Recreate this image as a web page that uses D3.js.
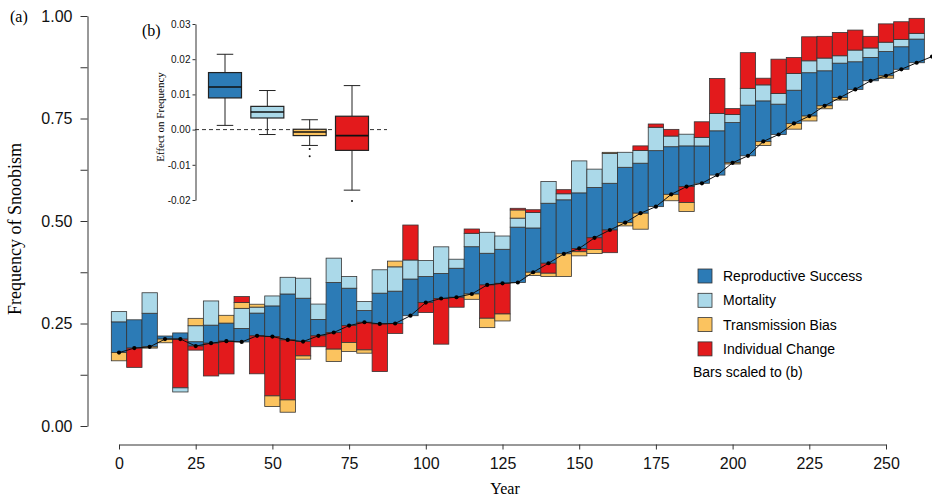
<!DOCTYPE html>
<html><head><meta charset="utf-8">
<script src="https://cdn.jsdelivr.net/npm/d3@7"></script>
<style>body{margin:0;background:#fff} svg{display:block}</style>
</head><body><svg id="c" width="932" height="502"></svg>
<script>
// ---------- DATA ----------
// trajectory of the frequency of snoobism (points every 5 years)
const trajYear = [0,5,10,15,20,25,30,35,40,45,50,55,60,65,70,75,80,85,90,95,100,105,110,115,120,125,130,135,140,145,150,155,160,165,170,175,180,185,190,195,200,205,210,215,220,225,230,235,240,245,250,255,260,265];
const trajFreq = [0.179,0.190,0.193,0.212,0.212,0.195,0.202,0.207,0.205,0.220,0.218,0.210,0.206,0.220,0.228,0.245,0.253,0.249,0.250,0.269,0.301,0.311,0.314,0.322,0.344,0.348,0.350,0.375,0.397,0.420,0.433,0.459,0.478,0.496,0.519,0.535,0.565,0.584,0.592,0.612,0.642,0.659,0.694,0.711,0.738,0.756,0.781,0.801,0.821,0.842,0.854,0.870,0.886,0.901];
// bar components (scaled effects), one per bar year (0..260)
const reproductive = [0.075,0.069,0.082,0.0075,0.015,0.0106,0.044,0.044,0.033,0.0554,0.0749,0.112,0.1057,0.040,0.122,0.0911,0.0285,0.075,0.0789,0.0895,0.0635,0.061,0.0708,0.1153,0.0773,0.083,0.135,0.108,0.1463,0.1317,0.1356,0.1229,0.114,0.135,0.122,0.1366,0.1162,0.0992,0.091,0.108,0.098,0.1236,0.099,0.074,0.081,0.1057,0.0854,0.084,0.0674,0.057,0.0593,0.055,0.0577];
const mortality = [0.025,0,0.050,0,-0.010,0.039,0.059,0,0.049,0.0146,0.0243,0.0407,0.0488,0.0374,0.0594,0.0284,0.022,0.057,0.0593,0.0464,0.039,0.065,0.022,0.0327,0.0512,0.0324,0.022,0.038,0.0528,0.0147,0.078,0.0446,0.073,0.0366,0.0308,0.057,0.026,0.0285,0.021,0.0424,0.0195,0.041,0.039,0.026,0.0407,0.029,0.031,0.018,0.0285,0.023,0.0228,0.018,0.014];
const transmission = [-0.020,0,-0.003,-0.009,0,0.018,0,0.019,0.014,0.007,-0.026,-0.030,-0.008,0,-0.0302,-0.022,-0.008,0,0.014,0,0,0,0,-0.013,-0.0229,-0.017,0.020,-0.008,-0.008,-0.0553,-0.010,-0.010,0.0025,-0.008,-0.039,0,-0.0156,-0.022,0,0,-0.003,0,-0.010,0,-0.014,-0.012,-0.0073,-0.006,0,0,-0.0057,0,0];
const individual = [0,-0.047,0,0,-0.119,-0.010,-0.080,-0.080,0.0147,-0.0927,-0.1446,-0.1464,-0.035,-0.0267,-0.0406,-0.0414,-0.0674,-0.1163,-0.0243,0.0853,-0.0244,-0.1114,-0.0243,0.0105,-0.0812,-0.0748,0.004,0.0065,-0.0244,0.010,-0.008,-0.0283,-0.0553,0,0.0114,0.008,0.0163,-0.039,0.038,0.0853,0.0146,0.087,0.0163,0.0837,0.039,0.0586,0.053,0.057,0.0488,0.0284,0.0447,0.043,0.0366];
const seriesNames = ["Reproductive Success","Mortality","Transmission Bias","Individual Change"];
const seriesColors = ["#2c7bb6","#abd9e9","#fbc35f","#e31a1c"];
// tick labels
const xTicks = [0,25,50,75,100,125,150,175,200,225,250];
const yTicks = [0,0.125,0.25,0.375,0.5,0.625,0.75,0.875,1];
const bTicks = [-0.02,-0.01,0,0.01,0.02,0.03];
// inset (b) boxplot stats
const boxLow  = [0.0012,-0.0014,-0.0045,-0.0172];
const boxQ1   = [0.0090, 0.0033,-0.0017,-0.0059];
const boxMed  = [0.0121, 0.0050,-0.0007,-0.0017];
const boxQ3   = [0.0162, 0.0066, 0.0001, 0.0038];
const boxHigh = [0.0214, 0.0111, 0.0028, 0.0125];
const outlierSeries = [2,2,3];
const outlierValue  = [-0.0055,-0.0076,-0.0203];

// ---------- CHART ----------
const svg = d3.select("#c");
const SANS = "Liberation Sans, Arial, sans-serif";
const SERIF = "Liberation Serif, Times New Roman, serif";
const AX = "#333";

const x = d3.scaleLinear().domain([0,250]).range([119,886]);
const y = d3.scaleLinear().domain([0,1]).range([426,16]);

const comps = [reproductive, mortality, transmission, individual];
const segs = [];
reproductive.forEach((_, i) => {
  const yr = trajYear[i];
  let up = trajFreq[i], dn = trajFreq[i];
  comps.forEach((vals, c) => {
    const v = vals[i];
    if (v > 0) { segs.push({yr, y0: up, y1: up + v, c}); up += v; }
  });
  [3,2,1,0].forEach(c => {
    const v = comps[c][i];
    if (v < 0) { segs.push({yr, y0: dn + v, y1: dn, c}); dn += v; }
  });
});

svg.append("g").selectAll("rect").data(segs).join("rect")
  .attr("x", d => x(d.yr - 2.5))
  .attr("width", d => x(d.yr + 2.5) - x(d.yr - 2.5))
  .attr("y", d => y(d.y1))
  .attr("height", d => y(d.y0) - y(d.y1))
  .attr("fill", d => seriesColors[d.c])
  .attr("stroke", "#353535").attr("stroke-width", 0.8);

// trajectory line
const line = d3.line().x((d,i) => x(trajYear[i])).y(d => y(d));
svg.append("path").datum(trajFreq).attr("d", line)
  .attr("fill","none").attr("stroke","#111").attr("stroke-width",1);
svg.append("g").selectAll("circle").data(trajFreq).join("circle")
  .attr("cx", (d,i) => x(trajYear[i])).attr("cy", d => y(d)).attr("r", 2.1).attr("fill","#000");

// axes
const yAxis = d3.axisLeft(y).tickValues(yTicks).tickSize(7).tickPadding(8).tickSizeOuter(0)
  .tickFormat(d => Math.abs(d*4 - Math.round(d*4)) < 1e-9 ? d.toFixed(2) : "");
const gy = svg.append("g").attr("transform","translate(87.5,0)").call(yAxis);
const xAxis = d3.axisBottom(x).tickValues(xTicks).tickSize(5).tickPadding(8).tickSizeOuter(0);
const gx = svg.append("g").attr("transform","translate(0,444.5)").call(xAxis);
[gx, gy].forEach(g => {
  g.selectAll("path,line").attr("stroke", AX);
  g.selectAll("text").attr("font-family", SANS).attr("font-size", 16).attr("fill","#111");
});

svg.append("text").attr("x",10).attr("y",22).attr("font-family",SERIF).attr("font-size",16).text("(a)");
svg.append("text").attr("transform","translate(21,229) rotate(-90)").attr("text-anchor","middle")
  .attr("font-family",SERIF).attr("font-size",18).text("Frequency of Snoobism");
svg.append("text").attr("x",505).attr("y",494).attr("text-anchor","middle")
  .attr("font-family",SERIF).attr("font-size",16).text("Year");

// legend
const lg = svg.append("g");
seriesNames.forEach((n, i) => {
  lg.append("rect").attr("x",698).attr("y",269 + i*24.3).attr("width",14).attr("height",14)
    .attr("fill",seriesColors[i]).attr("stroke","#333").attr("stroke-width",0.8);
  lg.append("text").attr("x",723).attr("y",281 + i*24.3).attr("font-family",SANS).attr("font-size",14).text(n);
});
lg.append("text").attr("x",693).attr("y",377).attr("font-family",SANS).attr("font-size",14).text("Bars scaled to (b)");

// ---------- INSET (b) ----------
const yb = d3.scaleLinear().domain([-0.02,0.03]).range([200,24]);
const xb = d3.scalePoint().domain(seriesNames).range([225,352]);
const bw = 33;
const ib = svg.append("g");
ib.append("line").attr("x1",195).attr("x2",387).attr("y1",yb(0)).attr("y2",yb(0))
  .attr("stroke","#333").attr("stroke-dasharray","4,3").attr("stroke-width",1);
seriesNames.forEach((n, i) => {
  const cx = xb(n);
  const g = ib.append("g");
  g.append("line").attr("x1",cx).attr("x2",cx).attr("y1",yb(boxHigh[i])).attr("y2",yb(boxQ3[i])).attr("stroke","#222");
  g.append("line").attr("x1",cx).attr("x2",cx).attr("y1",yb(boxQ1[i])).attr("y2",yb(boxLow[i])).attr("stroke","#222");
  [boxHigh[i], boxLow[i]].forEach(v => g.append("line").attr("x1",cx-bw/4).attr("x2",cx+bw/4)
    .attr("y1",yb(v)).attr("y2",yb(v)).attr("stroke","#222"));
  g.append("rect").attr("x",cx-bw/2).attr("width",bw).attr("y",yb(boxQ3[i]))
    .attr("height",yb(boxQ1[i])-yb(boxQ3[i])).attr("fill",seriesColors[i]).attr("stroke","#222").attr("stroke-width",1.2);
  g.append("line").attr("x1",cx-bw/2).attr("x2",cx+bw/2).attr("y1",yb(boxMed[i])).attr("y2",yb(boxMed[i]))
    .attr("stroke","#111").attr("stroke-width",1.6);
});
ib.selectAll("circle.o").data(outlierValue).join("circle").attr("class","o")
  .attr("cx",(d,i)=>xb(seriesNames[outlierSeries[i]])).attr("cy",d=>yb(d)).attr("r",1).attr("fill","#111");
const bAxis = d3.axisLeft(yb).tickValues(bTicks).tickSize(3).tickPadding(2).tickSizeOuter(0).tickFormat(d => d.toFixed(2));
const gb = svg.append("g").attr("transform","translate(195.5,0)").call(bAxis);
gb.selectAll("path,line").attr("stroke",AX);
gb.selectAll("text").attr("font-family",SANS).attr("font-size",10).attr("fill","#111");
svg.append("text").attr("x",142).attr("y",36).attr("font-family",SERIF).attr("font-size",16).text("(b)");
svg.append("text").attr("transform","translate(164,117) rotate(-90)").attr("text-anchor","middle")
  .attr("font-family",SERIF).attr("font-size",11).text("Effect on Frequency");
</script></body></html>
